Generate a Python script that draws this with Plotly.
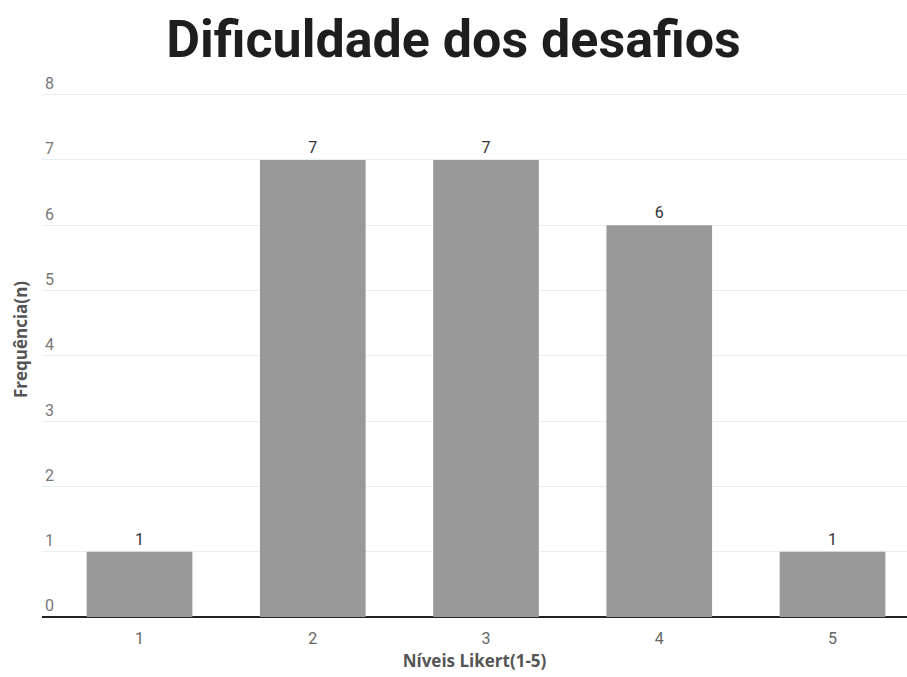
import plotly.graph_objects as go

# Survey: perceived difficulty of the challenges (Likert 1-5)
levels = [1, 2, 3, 4, 5]
counts = [1, 7, 7, 6, 1]
y_ticks = [0, 1, 2, 3, 4, 5, 6, 7, 8]

fig = go.Figure(
    go.Bar(
        x=levels,
        y=counts,
        width=0.61,
        marker=dict(color="#999999", line=dict(width=0)),
        text=[str(c) for c in counts],
        textposition="outside",
        textfont=dict(family="Roboto", size=16, color="#333333"),
        cliponaxis=False,
    )
)

fig.update_layout(
    width=907,
    height=677,
    margin=dict(l=42, r=0, t=62, b=60),
    paper_bgcolor="white",
    plot_bgcolor="white",
    showlegend=False,
    bargap=0.4,
    title=dict(
        text="<b>Dificuldade dos desafios</b>",
        x=0.5,
        xanchor="center",
        y=0.942,
        yanchor="middle",
        font=dict(family="Roboto", size=52, color="#1e1e1e"),
    ),
    xaxis=dict(
        range=[0.437, 5.43],
        tickvals=levels,
        ticktext=[str(v) for v in levels],
        tickfont=dict(family="Roboto", size=16, color="#666666"),
        ticklabelstandoff=10,
        showgrid=False,
        zeroline=False,
        showline=False,
        ticks="",
        title=dict(
            text="<b>Níveis Likert(1-5)</b>",
            font=dict(family="Open Sans", size=17, color="#555555"),
            standoff=8,
        ),
    ),
    yaxis=dict(
        range=[0, 8.5],
        tickvals=y_ticks,
        ticklabelposition="inside top",
        tickfont=dict(family="Roboto", size=16, color="#777777"),
        showgrid=True,
        gridcolor="#e6f0f0",
        gridwidth=1,
        zeroline=True,
        zerolinecolor="#222222",
        zerolinewidth=2,
        showline=False,
        ticks="",
        title=dict(
            text="<b>Frequência(n)</b>",
            font=dict(family="Open Sans", size=17, color="#555555"),
            standoff=13,
        ),
    ),
)

fig.write_html("out.html")
